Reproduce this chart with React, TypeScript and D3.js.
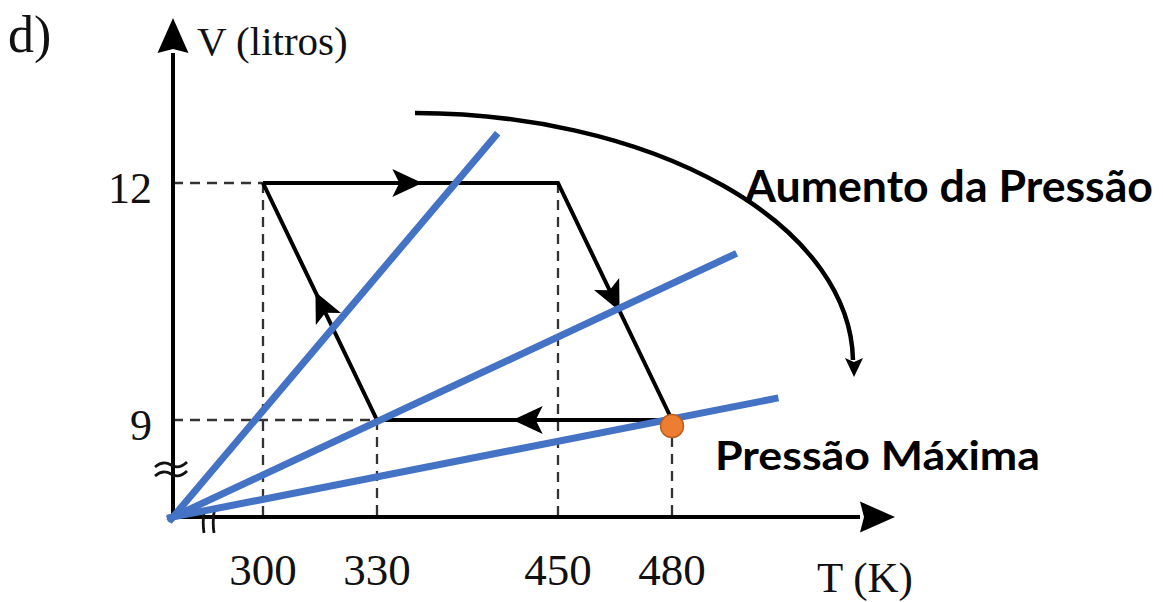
import React from "react";
import * as d3 from "d3";

// ---- data ----
const T_TICKS = [300, 330, 450, 480];
const V_TICKS = [9, 12];
// cycle states (T in K, V in litres), in order of traversal
const CYCLE_T = [300, 450, 480, 330];
const CYCLE_V = [12, 12, 9, 9];
// isobar lines from origin: end points (T, V)
const ISOBAR_END_T = [410, 497, 508];
const ISOBAR_END_V = [12.63, 11.11, 9.28];
// point of maximum pressure
const PMAX_T = [480];
const PMAX_V = [9];

// ---- layout ----
const W = 1163;
const H = 602;
const X_RANGE = [173, 263, 377, 558, 672];
const Y_RANGE = [517, 420, 183];
const BLUE = "#4472C4";
const ORANGE = "#ED7D31";
const SERIF = "'Liberation Serif', 'Times New Roman', serif";
const SANS = "Lato, 'Open Sans', sans-serif";

function arrowHead(L: number, Wd: number, notch: number): string {
  const p = d3.path();
  p.moveTo(0, 0);
  p.lineTo(-L, -Wd);
  p.lineTo(-L + notch, 0);
  p.lineTo(-L, Wd);
  p.closePath();
  return p.toString();
}

export default function App() {
  const x = d3.scaleLinear().domain([0, ...T_TICKS]).range(X_RANGE);
  const y = d3.scaleLinear().domain([0, ...V_TICKS]).range(Y_RANGE);

  const ox = x(0);
  const oy = y(0);
  const xEnd = 860;
  const yEnd = 53;

  const pts = CYCLE_T.map((t, i) => [x(t), y(CYCLE_V[i])] as [number, number]);
  const cyclePath = d3.line()([...pts, pts[0]]) as string;

  const segArrows = pts.map((a, i) => {
    const b = pts[(i + 1) % pts.length];
    const f = 0.54;
    const tx = a[0] + f * (b[0] - a[0]);
    const ty = a[1] + f * (b[1] - a[1]);
    const ang = (Math.atan2(b[1] - a[1], b[0] - a[0]) * 180) / Math.PI;
    return { tx, ty, ang };
  });

  const isobars = ISOBAR_END_T.map((t, i) => {
    const ex = x(t);
    const ey = y(ISOBAR_END_V[i]);
    const dx = ex - ox;
    const dy = ey - oy;
    const len = Math.hypot(dx, dy);
    const ext = 6;
    return [
      [ox - (dx / len) * ext, oy - (dy / len) * ext],
      [ex, ey],
    ] as [number, number][];
  });

  // dashed guide lines
  const guides: [number, number, number, number][] = [];
  V_TICKS.forEach((v) => {
    const xs = CYCLE_T.filter((_, i) => CYCLE_V[i] === v).map((t) => x(t));
    guides.push([ox, y(v), Math.min(...xs), y(v)]);
  });
  CYCLE_T.forEach((t, i) => {
    guides.push([x(t), y(CYCLE_V[i]), x(t), oy]);
  });

  const head = arrowHead(30, 14, 7);
  const axisHead = arrowHead(35, 15.5, 4);
  const smallHead = arrowHead(19, 9, 4);

  return (
    <svg
      width={W}
      height={H}
      style={{ position: "absolute", left: 0, top: 0, display: "block", background: "#fff" }}
    >
      <rect x={0} y={0} width={W} height={H} fill="#fff" />

      {/* dashed guides */}
      {guides.map((g, i) => (
        <line
          key={"g" + i}
          x1={g[0]}
          y1={g[1]}
          x2={g[2]}
          y2={g[3]}
          stroke="#333"
          strokeWidth={2.3}
          strokeDasharray="10,7"
        />
      ))}

      {/* axes */}
      <line x1={ox} y1={oy} x2={xEnd} y2={oy} stroke="#000" strokeWidth={4} />
      <line x1={ox} y1={oy + 2} x2={ox} y2={yEnd} stroke="#000" strokeWidth={4} />
      <path d={axisHead} transform={`translate(895,${oy}) rotate(0)`} fill="#000" />
      <path d={axisHead} transform={`translate(${ox},18) rotate(-90)`} fill="#000" />

      {/* axis break marks */}
      <path
        d={`M${ox - 18},${467} q8,-7 16,-2 t16,-3 M${ox - 18},${476} q8,-7 16,-2 t16,-3`}
        fill="none"
        stroke="#111"
        strokeWidth={2.8}
      />
      <path
        d={`M205,508 q-3,11 -1,25 M215,508 q-3,11 -1,25`}
        fill="none"
        stroke="#111"
        strokeWidth={2.8}
      />

      {/* cycle */}
      <path d={cyclePath} fill="none" stroke="#000" strokeWidth={4} strokeLinejoin="miter" />
      {segArrows.map((a, i) => (
        <path
          key={"a" + i}
          d={head}
          transform={`translate(${a.tx},${a.ty}) rotate(${a.ang})`}
          fill="#000"
        />
      ))}

      {/* isobars */}
      {isobars.map((l, i) => (
        <path key={"iso" + i} d={d3.line()(l) as string} stroke={BLUE} strokeWidth={7} fill="none" />
      ))}

      {/* max pressure point */}
      {PMAX_T.map((t, i) => (
        <circle
          key={"pm" + i}
          cx={x(t)}
          cy={y(PMAX_V[i]) + 6}
          r={11.5}
          fill={ORANGE}
          stroke="#B85E1E"
          strokeWidth={1.5}
        />
      ))}

      {/* curved arrow: increasing pressure */}
      <path d="M415,113 A440,250 0 0,1 853,360" fill="none" stroke="#000" strokeWidth={4.5} />
      <path d={smallHead} transform="translate(854,377) rotate(90)" fill="#000" />

      {/* tick labels */}
      {T_TICKS.map((t) => (
        <text
          key={"tx" + t}
          x={x(t)}
          y={585}
          textAnchor="middle"
          fontFamily={SERIF}
          fontSize={45}
          fill="#111"
        >
          {t}
        </text>
      ))}
      {V_TICKS.map((v) => (
        <text
          key={"ty" + v}
          x={152}
          y={y(v) + 20}
          textAnchor="end"
          fontFamily={SERIF}
          fontSize={44}
          fill="#111"
        >
          {v}
        </text>
      ))}

      {/* titles */}
      <text x={8} y={52} fontFamily={SERIF} fontSize={52} fill="#111">
        d)
      </text>
      <text x={197} y={55} fontFamily={SERIF} fontSize={41} fill="#111">
        V (litros)
      </text>
      <text x={817} y={592} fontFamily={SERIF} fontSize={43} fill="#111">
        T (K)
      </text>

      {/* annotations */}
      <text
        x={745}
        y={202}
        fontFamily={SANS}
        fontWeight="bold"
        fontSize={43}
        textLength={408}
        lengthAdjust="spacingAndGlyphs"
        fill="#000"
      >
        Aumento da Pressão
      </text>
      <text
        x={715}
        y={470}
        fontFamily={SANS}
        fontWeight="bold"
        fontSize={41}
        textLength={325}
        lengthAdjust="spacingAndGlyphs"
        fill="#000"
      >
        Pressão Máxima
      </text>
    </svg>
  );
}
